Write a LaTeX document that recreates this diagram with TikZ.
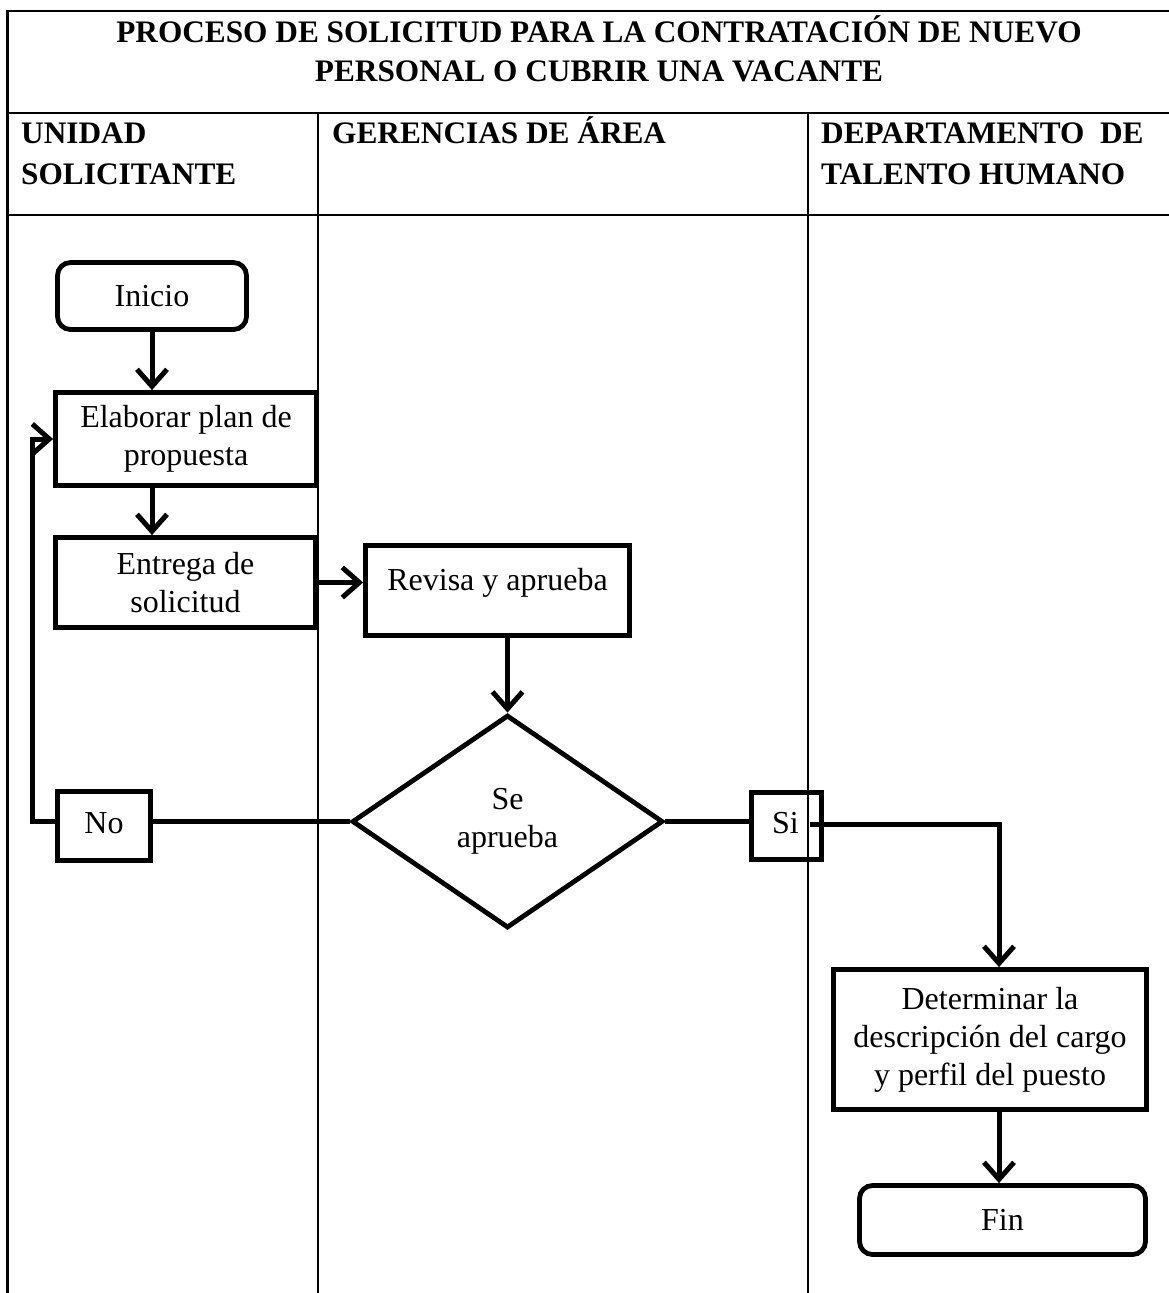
\documentclass[tikz,border=0pt]{standalone}
\usepackage{fontspec}
\setmainfont{Liberation Serif}
\usetikzlibrary{arrows.meta,shapes.geometric}
\begin{document}
\begin{tikzpicture}[x=1pt,y=-1pt,
  every node/.style={font=\fontsize{32}{38}\selectfont},
  grid/.style={line width=2.2pt},
  box/.style={draw, line width=4.8pt, rectangle, inner sep=0pt, align=center},
  term/.style={box, rounded corners=13pt},
  plain/.style={line width=5pt, line join=miter},
  flow/.style={plain, -{Straight Barb[length=17pt,width=30pt]}},
  head/.style={font=\fontsize{31.3}{41}\selectfont\bfseries, align=left,
               anchor=north west, inner sep=0pt}
]
\useasboundingbox (0,0) rectangle (1169,1293);

% swimlane table
\draw[grid] (1185,11) -- (7.5,11) -- (7.5,1300);
\draw[grid] (7.5,113) -- (1185,113);
\draw[grid] (7.5,215) -- (1185,215);
\draw[grid] (318,113) -- (318,1300);
\draw[grid] (808,113) -- (808,1300);

\node[font=\fontsize{31.3}{39}\selectfont\bfseries, align=center,
      anchor=north, inner sep=0pt] (title) at (599,14.7)
  {\strut PROCESO DE SOLICITUD PARA LA CONTRATACIÓN DE NUEVO\\
   PERSONAL O CUBRIR UNA VACANTE};

\node[head] (lane1) at (21,114.3) {\strut UNIDAD\\SOLICITANTE};
\node[head] (lane2) at (332,114.3) {\strut GERENCIAS DE ÁREA};
\node[head] (lane3) at (821,114.3) {\strut DEPARTAMENTO\ \ DE\\TALENTO HUMANO};

% process steps
\node[term, minimum width=189pt, minimum height=67pt] (inicio) at (152,296) {Inicio};
\node[box, minimum width=261pt, minimum height=93pt] (elab) at (186,439)
  {Elaborar plan de\\propuesta};
\node[box, minimum width=260pt, minimum height=90pt] (entrega) at (185.5,582.5)
  {Entrega de\\solicitud};
\node[box, minimum width=264pt, minimum height=90pt] (revisa) at (497.5,590.5) {};
\node[inner sep=0pt] (revisatxt) at (497.5,583) {Revisa y aprueba};
\node[draw, diamond, line width=4.8pt, minimum width=311pt, minimum height=213pt,
      inner sep=0pt, align=center] (dec) at (507.5,821.5) {Se\\aprueba};
\node[box, minimum width=93pt, minimum height=69pt] (no) at (104,826) {};
\node[inner sep=0pt] (notxt) at (104,823) {No};
\node[box, minimum width=70pt, minimum height=67pt] (si) at (786.5,826) {};
\node[inner sep=0pt] (sitxt) at (785.5,823) {Si};
\node[box, minimum width=313pt, minimum height=140pt] (det) at (990,1039.5)
  {Determinar la\\descripción del cargo\\y perfil del puesto};
\node[term, minimum width=286pt, minimum height=69pt] (fin) at (1002.5,1220) {Fin};

% connectors
\coordinate (loopx) at (32,0);
\coordinate (sistart) at (810,824);
\coordinate (bend) at (999,824);

\draw[flow] (inicio.south) -- (inicio.south |- elab.north);
\draw[flow] (inicio.south |- elab.south) -- (inicio.south |- entrega.north);
\draw[flow] (entrega.east) -- (entrega.east -| revisa.west);
\draw[flow] (revisa.south -| dec.north) -- (dec.north);
\draw[plain] (dec.west) -- (dec.west -| no.east);
\draw[flow] (dec.west -| no.west) -| (loopx |- elab.west) -- (elab.west);
\draw[plain] (dec.east) -- (dec.east -| si.west);
\draw[flow] (sistart) -- (bend) -- (bend |- det.north);
\draw[flow] (bend |- det.south) -- (bend |- fin.north);
\end{tikzpicture}
\end{document}
